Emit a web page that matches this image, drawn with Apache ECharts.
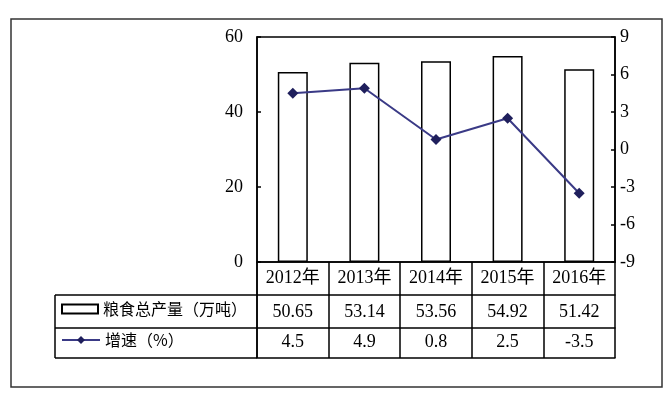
<!DOCTYPE html>
<html>
<head>
<meta charset="utf-8">
<script src="https://cdn.jsdelivr.net/npm/echarts@6/dist/echarts.min.js"></script>
<style>
  html, body { margin: 0; padding: 0; background: #fff; }
  #chart { width: 672px; height: 398px; }
</style>
</head>
<body>
<div id="chart"></div>
<script>
  // 数据
  var years = ['2012年', '2013年', '2014年', '2015年', '2016年'];
  var output = [50.65, 53.14, 53.56, 54.92, 51.42]; // 粮食总产量（万吨）
  var growth = [4.5, 4.9, 0.8, 2.5, -3.5]; // 增速（%）
  var outputName = '粮食总产量（万吨）';
  var growthName = '增速（%）';

  // 版面（像素）
  var plotL = 257, plotR = 615, plotT = 37, plotB = 262;
  var rowH1 = 33, rowH2 = 33, rowH3 = 30;
  var tableL = 55;
  var W = 672, H = 398;
  var numFont = '"Liberation Serif", "Noto Sans CJK SC", serif';
  var cjkFont = '"Noto Sans CJK SC", sans-serif';

  var y1 = plotB + rowH1, y2 = y1 + rowH2, y3 = y2 + rowH3;

  var chart = echarts.init(document.getElementById('chart'));

  function hline(x1, x2, y) {
    return { type: 'line', shape: { x1: x1, y1: y, x2: x2, y2: y }, style: { stroke: '#000', lineWidth: 1.5 } };
  }
  function vline(x, ya, yb) {
    return { type: 'line', shape: { x1: x, y1: ya, x2: x, y2: yb }, style: { stroke: '#000', lineWidth: 1.5 } };
  }
  // 数据表的一行：用一条类目轴来画
  function tableRow(labels, offset, margin, showLabel) {
    return {
      type: 'category', data: labels, position: 'bottom', offset: offset,
      axisLine: { show: true, onZero: false, lineStyle: { color: '#000', width: 1.5 } },
      axisTick: { show: false },
      axisLabel: { show: showLabel, interval: 0, margin: margin, fontFamily: numFont, fontSize: 18, color: '#000' },
      splitLine: { show: false }
    };
  }

  var option = {
    backgroundColor: '#fff',
    animation: false,
    grid: {
      left: plotL, right: W - plotR, top: plotT, bottom: H - plotB,
      show: true, borderColor: '#000', borderWidth: 1.5, backgroundColor: 'transparent'
    },
    legend: [{
      data: [{ name: outputName, icon: 'rect' }],
      left: tableL + 6, top: y1 + 6, padding: 0,
      itemWidth: 36, itemHeight: 9,
      textStyle: { fontFamily: cjkFont, fontSize: 16, color: '#000' },
      selectedMode: false
    }, {
      data: [growthName],
      left: tableL + 6, top: y2 + 4, padding: 0,
      itemWidth: 38, itemHeight: 10,
      textStyle: { fontFamily: cjkFont, fontSize: 16, color: '#000' },
      selectedMode: false
    }],
    xAxis: [{
      type: 'category', data: years, position: 'bottom',
      axisLine: { show: true, onZero: false, lineStyle: { color: '#000', width: 1.5 } },
      axisTick: { show: true, interval: 0, length: rowH1 + rowH2 + rowH3, lineStyle: { color: '#000', width: 1.5 } },
      axisLabel: { interval: 0, margin: 7, fontFamily: numFont, fontSize: 18, color: '#000' },
      splitLine: { show: false }
    },
      tableRow(output.map(function (v) { return v.toFixed(2); }), rowH1, 8, true),
      tableRow(growth.map(function (v) { return v.toFixed(1); }), rowH1 + rowH2, 5, true),
      tableRow(years, rowH1 + rowH2 + rowH3, 5, false)
    ],
    yAxis: [{
      type: 'value', min: 0, max: 60, interval: 20, position: 'left',
      axisLine: { show: true, lineStyle: { color: '#000', width: 1.5 } },
      axisTick: { show: true, inside: true, length: 4, lineStyle: { color: '#000', width: 1.5 } },
      axisLabel: { margin: 14, fontFamily: numFont, fontSize: 18, color: '#000' },
      splitLine: { show: false }
    }, {
      type: 'value', min: -9, max: 9, interval: 3, position: 'right',
      axisLine: { show: true, lineStyle: { color: '#000', width: 1.5 } },
      axisTick: { show: true, inside: true, length: 4, lineStyle: { color: '#000', width: 1.5 } },
      axisLabel: { margin: 5, fontFamily: numFont, fontSize: 18, color: '#000' },
      splitLine: { show: false }
    }],
    series: [{
      name: outputName,
      type: 'bar',
      data: output,
      barWidth: 30,
      itemStyle: { color: '#fff', borderColor: '#000', borderWidth: 1.5 }
    }, {
      name: growthName,
      type: 'line',
      yAxisIndex: 1,
      data: growth,
      z: 5,
      symbol: 'diamond',
      symbolSize: 11,
      lineStyle: { color: '#3a3a86', width: 2 },
      itemStyle: { color: '#1f1f5c' }
    }],
    graphic: [
      // 外框
      { type: 'rect', shape: { x: 11, y: 19, width: 651, height: 368 }, style: { fill: 'none', stroke: '#333', lineWidth: 1.5 }, z: -1 },
      // 数据表左侧图例格
      hline(tableL, plotL, y1),
      hline(tableL, plotL, y2),
      hline(tableL, plotL, y3),
      vline(tableL, y1, y3),
      vline(plotL, plotB, y3)
    ]
  };

  chart.setOption(option);
</script>
</body>
</html>
